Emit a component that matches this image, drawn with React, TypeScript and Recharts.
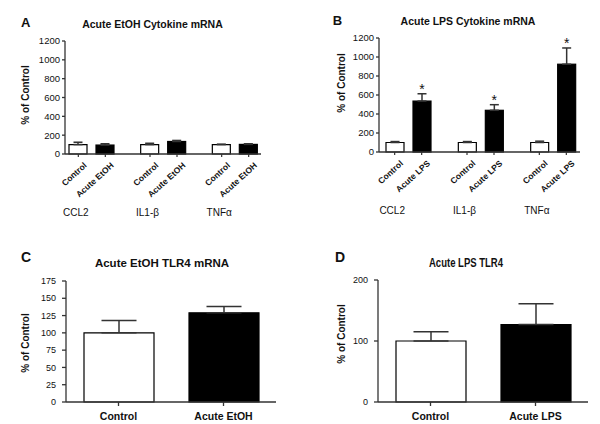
import { BarChart, Bar, XAxis, YAxis, ErrorBar } from "recharts";

const FONT = "'Liberation Sans', Arial, Helvetica, sans-serif";
const INK = "#111";
const AXIS = "#333";

// top panels: cytokine mRNA, % of control
const cytokines = ["CCL2", "IL1-β", "TNFα"];
const etohControl = [100, 100, 100];
const etohControlErr = [25, 14, 4];
const etohAcute = [95, 133, 102];
const etohAcuteErr = [14, 11, 7];

const lpsControl = [100, 100, 100];
const lpsControlErr = [10, 10, 14];
const lpsAcute = [536, 439, 924];
const lpsAcuteErr = [77, 59, 171];
const lpsSignificant = [true, true, true];

const cytokineTicks = [0, 200, 400, 600, 800, 1000, 1200];

// bottom panels: TLR4
const etohTlr4Groups = ["Control", "Acute EtOH"];
const etohTlr4 = [100, 129];
const etohTlr4Err = [18, 9];
const etohTlr4Ticks = [0, 25, 50, 75, 100, 125, 150, 175];

const lpsTlr4Groups = ["Control", "Acute LPS"];
const lpsTlr4 = [100, 127];
const lpsTlr4Err = [15, 34];
const lpsTlr4Ticks = [0, 100, 200];

const etohCytokineData = cytokines.map((name, i) => ({
  name,
  control: etohControl[i],
  controlErr: [0, etohControlErr[i]],
  treated: etohAcute[i],
  treatedErr: [0, etohAcuteErr[i]],
  sig: false,
}));

const lpsCytokineData = cytokines.map((name, i) => ({
  name,
  control: lpsControl[i],
  controlErr: [0, lpsControlErr[i]],
  treated: lpsAcute[i],
  treatedErr: [0, lpsAcuteErr[i]],
  sig: lpsSignificant[i],
}));

const etohTlr4Data = etohTlr4Groups.map((name, i) => ({
  name,
  value: etohTlr4[i],
  err: [0, etohTlr4Err[i]],
  fill: i === 0 ? "#fff" : "#000",
}));

const lpsTlr4Data = lpsTlr4Groups.map((name, i) => ({
  name,
  value: lpsTlr4[i],
  err: [0, lpsTlr4Err[i]],
  fill: i === 0 ? "#fff" : "#000",
}));

const SMALL_BAR = 18;
const SMALL_GAP = 9;

const GroupTick = (props: any) => {
  const { x, y, payload, labels } = props;
  const half = (SMALL_BAR + SMALL_GAP) / 2;
  const centers = [x - half, x + half];
  return (
    <g>
      {centers.map((cx, i) => {
        const tx = cx + 7;
        const ty = y + 10;
        return (
          <g key={i}>
            <line x1={cx} x2={cx} y1={y} y2={y + 3} stroke={AXIS} strokeWidth={1.2} />
            <text
              x={tx}
              y={ty}
              transform={`rotate(-42 ${tx} ${ty})`}
              textAnchor="end"
              dominantBaseline="central"
              fontSize={8.5}
              fontWeight="bold"
              fill={INK}
              fontFamily={FONT}
            >
              {labels[i]}
            </text>
          </g>
        );
      })}
      <text x={x - 16} y={y + 62} textAnchor="middle" fontSize={10} fill={INK} fontFamily={FONT}>
        {payload.value}
      </text>
    </g>
  );
};

const StarBar = (props: any) => {
  const { x, y, width, height, payload, fill } = props;
  const err = payload.treatedErr[1];
  const capY = y - (height * err) / payload.treated;
  return (
    <g>
      <rect x={x} y={y} width={width} height={height} fill={fill} stroke="#000" strokeWidth={1.2} />
      {payload.sig && (
        <text x={x + width / 2} y={capY} textAnchor="middle" fontSize={14} fill={INK} fontFamily={FONT}>
          *
        </text>
      )}
    </g>
  );
};

const yTick = { fontSize: 9.5, fill: INK, fontFamily: FONT };
const axisLine = { stroke: AXIS, strokeWidth: 1.3 };

const CytokinePanel = ({
  data,
  treatedLabel,
  margin,
  padding,
}: {
  data: any[];
  treatedLabel: string;
  margin: { top: number; right: number; bottom: number; left: number };
  padding: { left: number; right: number };
}) => (
  <BarChart width={300} height={220} data={data} margin={margin} barGap={SMALL_GAP}>
    <XAxis
      dataKey="name"
      height={60}
      interval={0}
      padding={padding}
      axisLine={axisLine}
      tickLine={false}
      tickSize={0}
      tickMargin={0}
      tick={(p: any) => <GroupTick {...p} labels={["Control", treatedLabel]} />}
    />
    <YAxis
      width={47}
      domain={[0, 1200]}
      ticks={cytokineTicks}
      interval={0}
      tickSize={3}
      tickMargin={2}
      axisLine={axisLine}
      tickLine={axisLine}
      tick={yTick}
    />
    <Bar dataKey="control" barSize={SMALL_BAR} fill="#fff" stroke="#000" strokeWidth={1.2} isAnimationActive={false}>
      <ErrorBar dataKey="controlErr" width={4.5} stroke={AXIS} strokeWidth={1.5} direction="y" />
    </Bar>
    <Bar dataKey="treated" barSize={SMALL_BAR} fill="#000" shape={<StarBar />} isAnimationActive={false}>
      <ErrorBar dataKey="treatedErr" width={4.5} stroke={AXIS} strokeWidth={1.5} direction="y" />
    </Bar>
  </BarChart>
);

const Tlr4Panel = ({
  data,
  ticks,
  margin,
}: {
  data: any[];
  ticks: number[];
  margin: { top: number; right: number; bottom: number; left: number };
}) => (
  <BarChart width={300} height={204} data={data} margin={margin}>
    <XAxis
      dataKey="name"
      height={22}
      interval={0}
      axisLine={axisLine}
      tickLine={axisLine}
      tickSize={4}
      tickMargin={7}
      tick={{ fontSize: 10.5, fontWeight: "bold", fill: INK, fontFamily: FONT }}
    />
    <YAxis
      width={46}
      domain={[ticks[0], ticks[ticks.length - 1]]}
      ticks={ticks}
      interval={0}
      tickSize={4}
      tickMargin={6}
      axisLine={axisLine}
      tickLine={axisLine}
      tick={{ ...yTick, fontSize: 9 }}
    />
    <Bar dataKey="value" barSize={70} stroke="#000" strokeWidth={1.2} isAnimationActive={false}>
      <ErrorBar dataKey="err" width={17.5} stroke={AXIS} strokeWidth={1.5} direction="y" />
    </Bar>
  </BarChart>
);

const place = (left: number, top: number) => ({ position: "absolute" as const, left, top });

const YTitle = ({ cx, cy }: { cx: number; cy: number }) => (
  <text
    x={cx + 3.6}
    y={cy}
    transform={`rotate(-90 ${cx + 3.6} ${cy})`}
    textAnchor="middle"
    fontSize={10}
    fontWeight="bold"
    fill={INK}
  >
    % of Control
  </text>
);

export default function App() {
  return (
    <div style={{ position: "absolute", left: 0, top: 0, width: 600, height: 424, background: "#fff", fontFamily: FONT }}>
      <div style={place(0, 0)}>
        <CytokinePanel
          data={etohCytokineData}
          treatedLabel="Acute EtOH"
          margin={{ top: 41, right: 39, bottom: 6, left: 18 }}
          padding={{ left: -9, right: -10 }}
        />
      </div>
      <div style={place(300, 0)}>
        <CytokinePanel
          data={lpsCytokineData}
          treatedLabel="Acute LPS"
          margin={{ top: 38, right: 20, bottom: 8, left: 32 }}
          padding={{ left: -7, right: -9 }}
        />
      </div>
      <div style={place(0, 220)}>
        <Tlr4Panel data={etohTlr4Data} ticks={etohTlr4Ticks} margin={{ top: 61, right: 24, bottom: 0, left: 20 }} />
      </div>
      <div style={place(300, 220)}>
        <Tlr4Panel data={lpsTlr4Data} ticks={lpsTlr4Ticks} margin={{ top: 60, right: 12, bottom: 0, left: 32 }} />
      </div>
      <svg width={600} height={424} style={{ position: "absolute", left: 0, top: 0, pointerEvents: "none" }} fontFamily={FONT}>
        <g fontWeight="bold" fill={INK}>
          <text x={21} y={27.3} fontSize={13}>A</text>
          <text x={152.5} y={28} fontSize={10.5} textAnchor="middle">Acute EtOH Cytokine mRNA</text>
          <text x={332.7} y={25} fontSize={13}>B</text>
          <text x={468} y={24.5} fontSize={10.5} textAnchor="middle">Acute LPS Cytokine mRNA</text>
          <text x={21} y={261.7} fontSize={14}>C</text>
          <text x={162} y={266.7} fontSize={11.5} textAnchor="middle">Acute EtOH TLR4 mRNA</text>
          <text x={335} y={262} fontSize={14}>D</text>
          <text x={466} y={266.7} fontSize={12} textAnchor="middle" textLength={74} lengthAdjust="spacingAndGlyphs">
            Acute LPS TLR4
          </text>
        </g>
        <YTitle cx={25} cy={95} />
        <YTitle cx={341.7} cy={83} />
        <YTitle cx={25} cy={343} />
        <YTitle cx={341.7} cy={334} />
      </svg>
    </div>
  );
}
